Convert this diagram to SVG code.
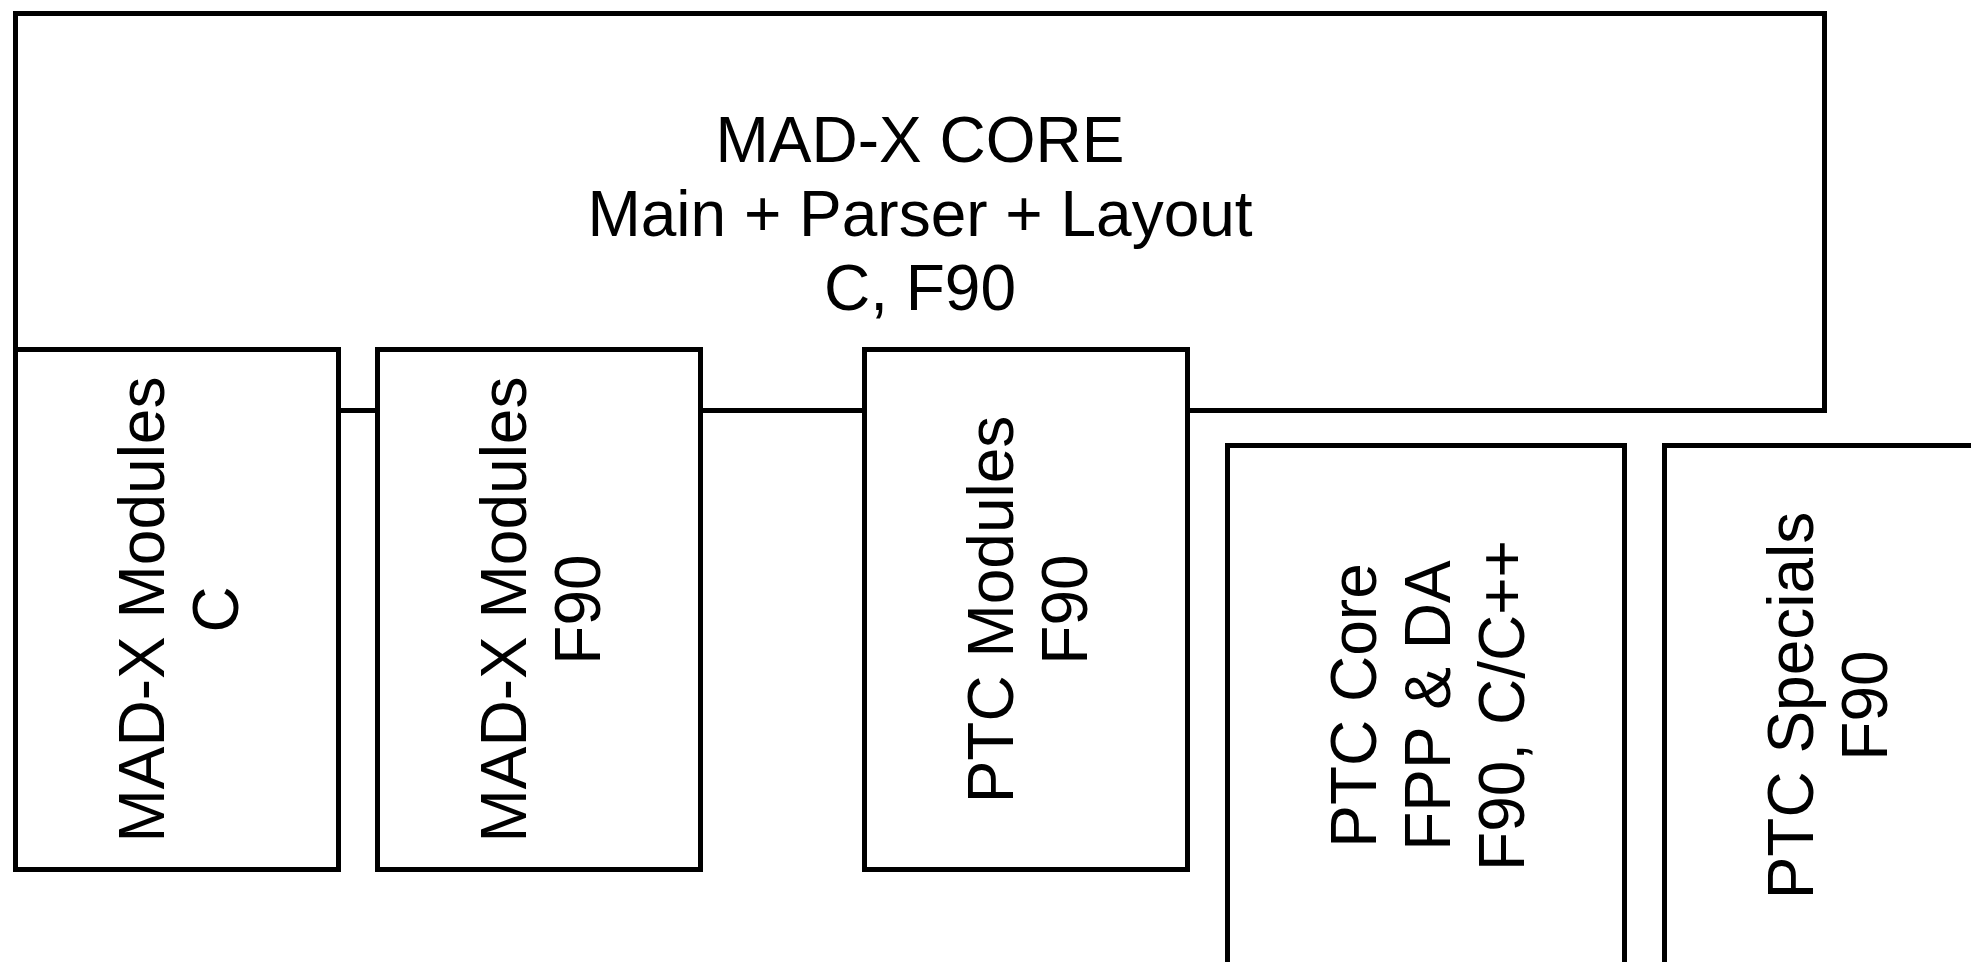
<svg xmlns="http://www.w3.org/2000/svg" width="1971" height="962" viewBox="0 0 1971 962">
<style>
.box{fill:#ffffff;stroke:#000000;stroke-width:5}
.lbl{font-family:"Liberation Sans",Arial,Helvetica,sans-serif;font-size:64px;fill:#000000;text-anchor:middle}
</style>
<rect width="1971" height="962" fill="#ffffff"/>
<g id="madx-core">
<rect class="box" x="15.5" y="13.5" width="1809" height="397"/>
<text class="lbl"><tspan x="920" y="162">MAD-X CORE</tspan><tspan x="920" y="236">Main + Parser + Layout</tspan><tspan x="920" y="310">C, F90</tspan></text>
</g>
<g id="madx-modules-c">
<rect class="box" x="15.5" y="349.5" width="323" height="520"/>
<text class="lbl" transform="translate(177,609.5) rotate(-90)"><tspan x="0" y="-13">MAD-X Modules</tspan><tspan x="0" y="61">C</tspan></text>
</g>
<g id="madx-modules-f90">
<rect class="box" x="377.5" y="349.5" width="323" height="520"/>
<text class="lbl" transform="translate(539,609.5) rotate(-90)"><tspan x="0" y="-13">MAD-X Modules</tspan><tspan x="0" y="61">F90</tspan></text>
</g>
<g id="ptc-modules">
<rect class="box" x="864.5" y="349.5" width="323" height="520"/>
<text class="lbl" transform="translate(1026,609.5) rotate(-90)"><tspan x="0" y="-13">PTC Modules</tspan><tspan x="0" y="61">F90</tspan></text>
</g>
<g id="ptc-core">
<rect class="box" x="1227.5" y="445.5" width="397" height="520"/>
<text class="lbl" transform="translate(1426,705.5) rotate(-90)"><tspan x="0" y="-50">PTC Core</tspan><tspan x="0" y="24">FPP &amp; DA</tspan><tspan x="0" y="98">F90, C/C++</tspan></text>
</g>
<g id="ptc-specials">
<rect class="box" x="1664.5" y="445.5" width="323" height="520"/>
<text class="lbl" transform="translate(1826,705.5) rotate(-90)"><tspan x="0" y="-13">PTC Specials</tspan><tspan x="0" y="61">F90</tspan></text>
</g>
</svg>
